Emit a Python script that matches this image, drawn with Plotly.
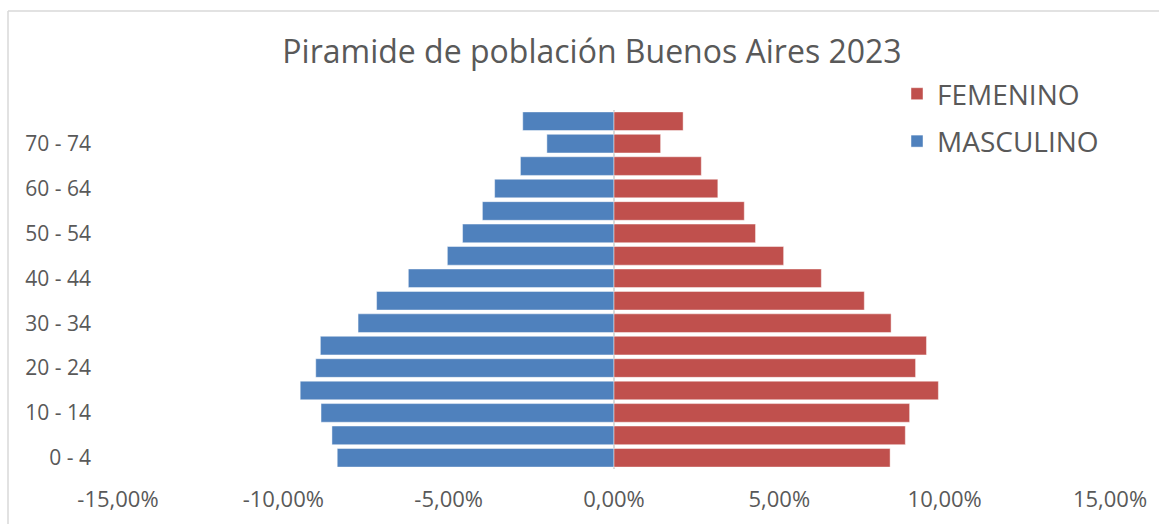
import plotly.graph_objects as go

# Age groups (bottom to top)
age_groups = ["0 - 4", "5 - 9", "10 - 14", "15 - 19", "20 - 24", "25 - 29", "30 - 34",
              "35 - 39", "40 - 44", "45 - 49", "50 - 54", "55 - 59", "60 - 64",
              "65 - 69", "70 - 74", "75 - 79"]

# Percent of population
masculino = [8.37, 8.53, 8.86, 9.49, 9.02, 8.88, 7.74, 7.18, 6.22, 5.04, 4.58, 3.98, 3.61,
             2.83, 2.03, 2.76]
femenino = [8.35, 8.81, 8.94, 9.81, 9.12, 9.45, 8.38, 7.57, 6.27, 5.13, 4.28, 3.94, 3.14,
            2.64, 1.41, 2.09]

x_ticks = [-15, -10, -5, 0, 5, 10, 15]
x_tick_labels = ["-15,00%", "-10,00%", "-5,00%", "0,00%", "5,00%", "10,00%", "15,00%"]
y_tick_labels = age_groups[::2]

BLUE = "#4F81BD"
RED = "#C0504D"
GREY_TXT = "#595959"
FONT = "Open Sans"

fig = go.Figure()
fig.add_trace(go.Bar(
    y=age_groups, x=[-v for v in masculino], orientation="h", name="MASCULINO",
    legendgroup="m", legendrank=2,
    marker=dict(color=BLUE, line=dict(color="rgba(255,255,255,0.45)", width=1)),
))
fig.add_trace(go.Bar(
    y=age_groups, x=femenino, orientation="h", name="FEMENINO",
    legendgroup="f", legendrank=1,
    marker=dict(color=RED, line=dict(color="rgba(255,255,255,0.45)", width=1)),
))

W, H = 1159, 524
L, R, T, B = 118, W - 1110, 110, H - 469
pw, ph = W - L - R, H - T - B

def px_x(p):
    return (p - L) / pw

def px_y(p):
    return (H - B - p) / ph

fig.update_layout(
    width=W, height=H,
    margin=dict(l=L, r=R, t=T, b=B),
    paper_bgcolor="white", plot_bgcolor="white",
    barmode="relative", bargap=0.17,
    font=dict(family=FONT, color=GREY_TXT),
    title=dict(text="Piramide de población Buenos Aires 2023",
               font=dict(size=32, color=GREY_TXT, family=FONT),
               x=592 / W, xanchor="center", y=1 - 52 / H, yanchor="middle"),
    legend=dict(traceorder="grouped", x=px_x(897), xanchor="left",
                y=px_y(69), yanchor="top",
                font=dict(size=28, color=GREY_TXT, family=FONT),
                bgcolor="rgba(0,0,0,0)", tracegroupgap=8, itemwidth=30),
    xaxis=dict(range=[-15, 15], tickvals=x_ticks, ticktext=x_tick_labels,
               showgrid=False, zeroline=True, zerolinecolor="#d9d9d9", zerolinewidth=2,
               showline=False, ticks="", tickfont=dict(size=22, color=GREY_TXT),
               ticklabelstandoff=15, fixedrange=True),
    yaxis=dict(type="category", categoryorder="array", categoryarray=age_groups,
               range=[-0.5, len(age_groups) - 0.5],
               tickvals=y_tick_labels, ticktext=y_tick_labels,
               showgrid=False, showline=False, ticks="",
               tickfont=dict(size=21, color=GREY_TXT),
               ticklabelstandoff=26, fixedrange=True),
    shapes=[
        dict(type="line", xref="paper", yref="paper",
             x0=px_x(8), x1=px_x(1165), y0=px_y(11), y1=px_y(11),
             line=dict(color="#d9d9d9", width=1.5)),
        dict(type="line", xref="paper", yref="paper",
             x0=px_x(8), x1=px_x(8), y0=px_y(11), y1=px_y(530),
             line=dict(color="#d9d9d9", width=1.5)),
    ],
    showlegend=True,
)

fig.write_html("out.html", config={"displayModeBar": False},
               post_script="document.body.style.margin='0';")
